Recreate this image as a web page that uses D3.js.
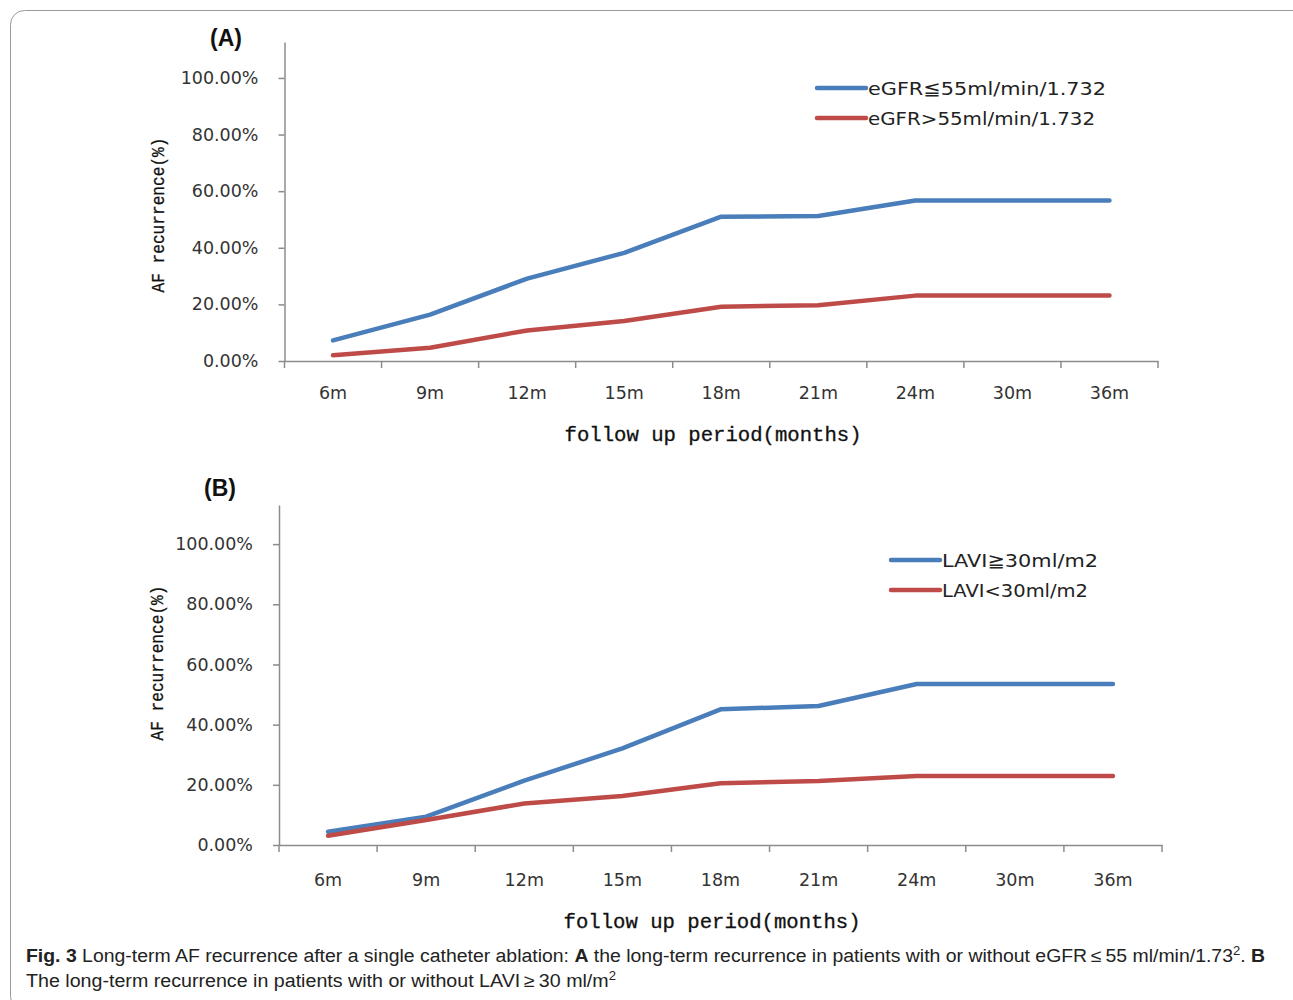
<!DOCTYPE html>
<html><head><meta charset="utf-8">
<script src="https://cdn.jsdelivr.net/npm/d3@7"></script>
<style>body{margin:0;background:#fff}svg{display:block}</style>
</head><body>
<script>
// ---- data ----
const categories = ["6m","9m","12m","15m","18m","21m","24m","30m","36m"];
const yTickValues = [0,20,40,60,80,100];
const yTickLabels = ["0.00%","20.00%","40.00%","60.00%","80.00%","100.00%"];
const egfrLow  = [7.3,16.4,29.1,38.2,51.0,51.2,56.7,56.7,56.7];   // eGFR≦55
const egfrHigh = [2.0,4.7,10.8,14.1,19.2,19.7,23.1,23.1,23.1];    // eGFR>55
const laviHigh = [4.4,9.4,21.4,32.1,45.1,46.2,53.5,53.5,53.5];    // LAVI≧30
const laviLow  = [3.1,8.3,13.8,16.3,20.5,21.3,22.9,22.9,22.9];    // LAVI<30
const legendA = ["eGFR≦55ml/min/1.732","eGFR>55ml/min/1.732"];
const legendB = ["LAVI≧30ml/m2","LAVI<30ml/m2"];
const xTitle = "follow up period(months)";
const yTitle = "AF recurrence(%)";

const W = 1293, H = 1000;
const BLUE = "#4a7ebb", RED = "#be4b48", AX = "#8c8c8c";
const svg = d3.select("body").append("svg").attr("width", W).attr("height", H);

// frame
svg.append("rect").attr("x",10.5).attr("y",10.5).attr("width",1310).attr("height",1000)
  .attr("rx",14).attr("fill","none").attr("stroke","#9a9a9a").attr("stroke-width",1);

function panel(cfg){
  const g = svg.append("g");
  const x = d3.scaleBand().domain(categories).range([cfg.left, cfg.right]).padding(0);
  const y = d3.scaleLinear().domain([0, cfg.yMax]).range([cfg.y0, cfg.ytop]);

  // y axis
  const ya = g.append("g").attr("transform",`translate(${cfg.left},0)`)
    .call(d3.axisLeft(y).tickValues(yTickValues).tickSize(6).tickSizeOuter(0).tickPadding(cfg.yPad)
      .tickFormat((d,i)=>yTickLabels[i]));
  ya.select(".domain").attr("stroke",AX).attr("stroke-width",1.5);
  ya.selectAll(".tick line").attr("stroke",AX).attr("stroke-width",1.5);
  ya.selectAll(".tick text").attr("font-family","DejaVu Sans, Verdana, sans-serif")
    .attr("font-size",17.5).attr("fill","#333");

  // x axis (labels at band centres)
  const xa = g.append("g").attr("transform",`translate(0,${cfg.y0})`)
    .call(d3.axisBottom(x).tickSize(0).tickPadding(cfg.xPad));
  xa.select(".domain").attr("stroke",AX).attr("stroke-width",1.5);
  xa.selectAll(".tick text").attr("font-family","DejaVu Sans, Verdana, sans-serif")
    .attr("font-size",17.5).attr("fill","#333");
  // boundary tick marks
  const bounds = categories.map(c=>x(c)).concat([x(categories[categories.length-1])+x.bandwidth()]);
  g.selectAll(".btick").data(bounds).join("line")
    .attr("x1",d=>d).attr("x2",d=>d).attr("y1",cfg.y0).attr("y2",cfg.y0+7)
    .attr("stroke",AX).attr("stroke-width",1.5);

  // lines
  const line = d3.line().x((d,i)=>x(categories[i])+x.bandwidth()/2).y(d=>y(d));
  cfg.series.forEach(s=>{
    g.append("path").datum(s.values).attr("d",line).attr("fill","none")
      .attr("stroke",s.color).attr("stroke-width",4.5).attr("stroke-linejoin","round").attr("stroke-linecap","round");
  });

  // legend
  cfg.series.forEach((s,i)=>{
    const ly = cfg.legY + i*cfg.legGap;
    g.append("line").attr("x1",cfg.legX).attr("x2",cfg.legX+49).attr("y1",ly).attr("y2",ly)
      .attr("stroke",s.color).attr("stroke-width",4.5).attr("stroke-linecap","round");
    g.append("text").attr("x",cfg.legX+51).attr("y",ly).attr("dy","0.36em")
      .attr("font-family","DejaVu Sans, Verdana, sans-serif").attr("font-size",18.5).attr("fill","#222")
      .attr("textLength", s.legW).attr("lengthAdjust","spacingAndGlyphs").text(s.name);
  });

  // panel label
  g.append("text").attr("x",cfg.labX).attr("y",cfg.labY).attr("text-anchor","middle")
    .attr("font-family","Liberation Sans, Arial, sans-serif").attr("font-weight","bold").attr("font-size",23)
    .attr("fill","#111").text(cfg.label);

  // axis titles
  g.append("text").attr("x",cfg.xtX).attr("y",cfg.xtY).attr("text-anchor","middle")
    .attr("font-family","Liberation Mono, DejaVu Sans Mono, monospace").attr("font-size",20)
    .attr("fill","#111").attr("stroke","#111").attr("stroke-width",0.3)
    .attr("textLength",297).attr("lengthAdjust","spacingAndGlyphs").text(xTitle);
  g.append("text").attr("transform",`translate(${cfg.ytX},${cfg.ytY}) rotate(-90)`).attr("text-anchor","middle")
    .attr("font-family","Liberation Mono, DejaVu Sans Mono, monospace").attr("font-size",18)
    .attr("fill","#111").attr("stroke","#111").attr("stroke-width",0.3)
    .attr("textLength",155).attr("lengthAdjust","spacingAndGlyphs").text(yTitle);
}

panel({left:284.5,right:1158,y0:361,ytop:42,yMax:112.7,yPad:20,xPad:26,
  series:[{name:legendA[0],values:egfrLow,color:BLUE,legW:238},{name:legendA[1],values:egfrHigh,color:RED,legW:227}],
  legX:817,legY:88,legGap:30,label:"(A)",labX:226,labY:46,xtX:713,xtY:441,ytX:164,ytY:215});

panel({left:279,right:1162,y0:845,ytop:505,yMax:113,yPad:20,xPad:29,
  series:[{name:legendB[0],values:laviHigh,color:BLUE,legW:156},{name:legendB[1],values:laviLow,color:RED,legW:146}],
  legX:891,legY:560,legGap:30,label:"(B)",labX:220,labY:496,xtX:712,xtY:928,ytX:163,ytY:663});

// caption
const cap = svg.append("g").attr("font-family","Liberation Sans Narrow, Liberation Sans, Arial, sans-serif")
  .attr("font-size",18).attr("fill","#222");
const l1 = cap.append("text").attr("x",26).attr("y",962).attr("textLength",1239).attr("lengthAdjust","spacingAndGlyphs");
l1.append("tspan").attr("font-weight","bold").text("Fig. 3");
l1.append("tspan").text("  Long-term AF recurrence after a single catheter ablation: ");
l1.append("tspan").attr("font-weight","bold").text("A");
l1.append("tspan").text(" the long-term recurrence in patients with or without eGFR\u2009\u2264\u200955 ml/min/1.73");
l1.append("tspan").attr("font-size",12).attr("dy",-7).text("2");
l1.append("tspan").attr("dy",7).text(". ");
l1.append("tspan").attr("font-weight","bold").text("B");
const l2 = cap.append("text").attr("x",26).attr("y",987).attr("textLength",590).attr("lengthAdjust","spacingAndGlyphs");
l2.append("tspan").text("The long-term recurrence in patients with or without LAVI\u2009\u2265\u200930 ml/m");
l2.append("tspan").attr("font-size",12).attr("dy",-7).text("2");
</script>
</body></html>
